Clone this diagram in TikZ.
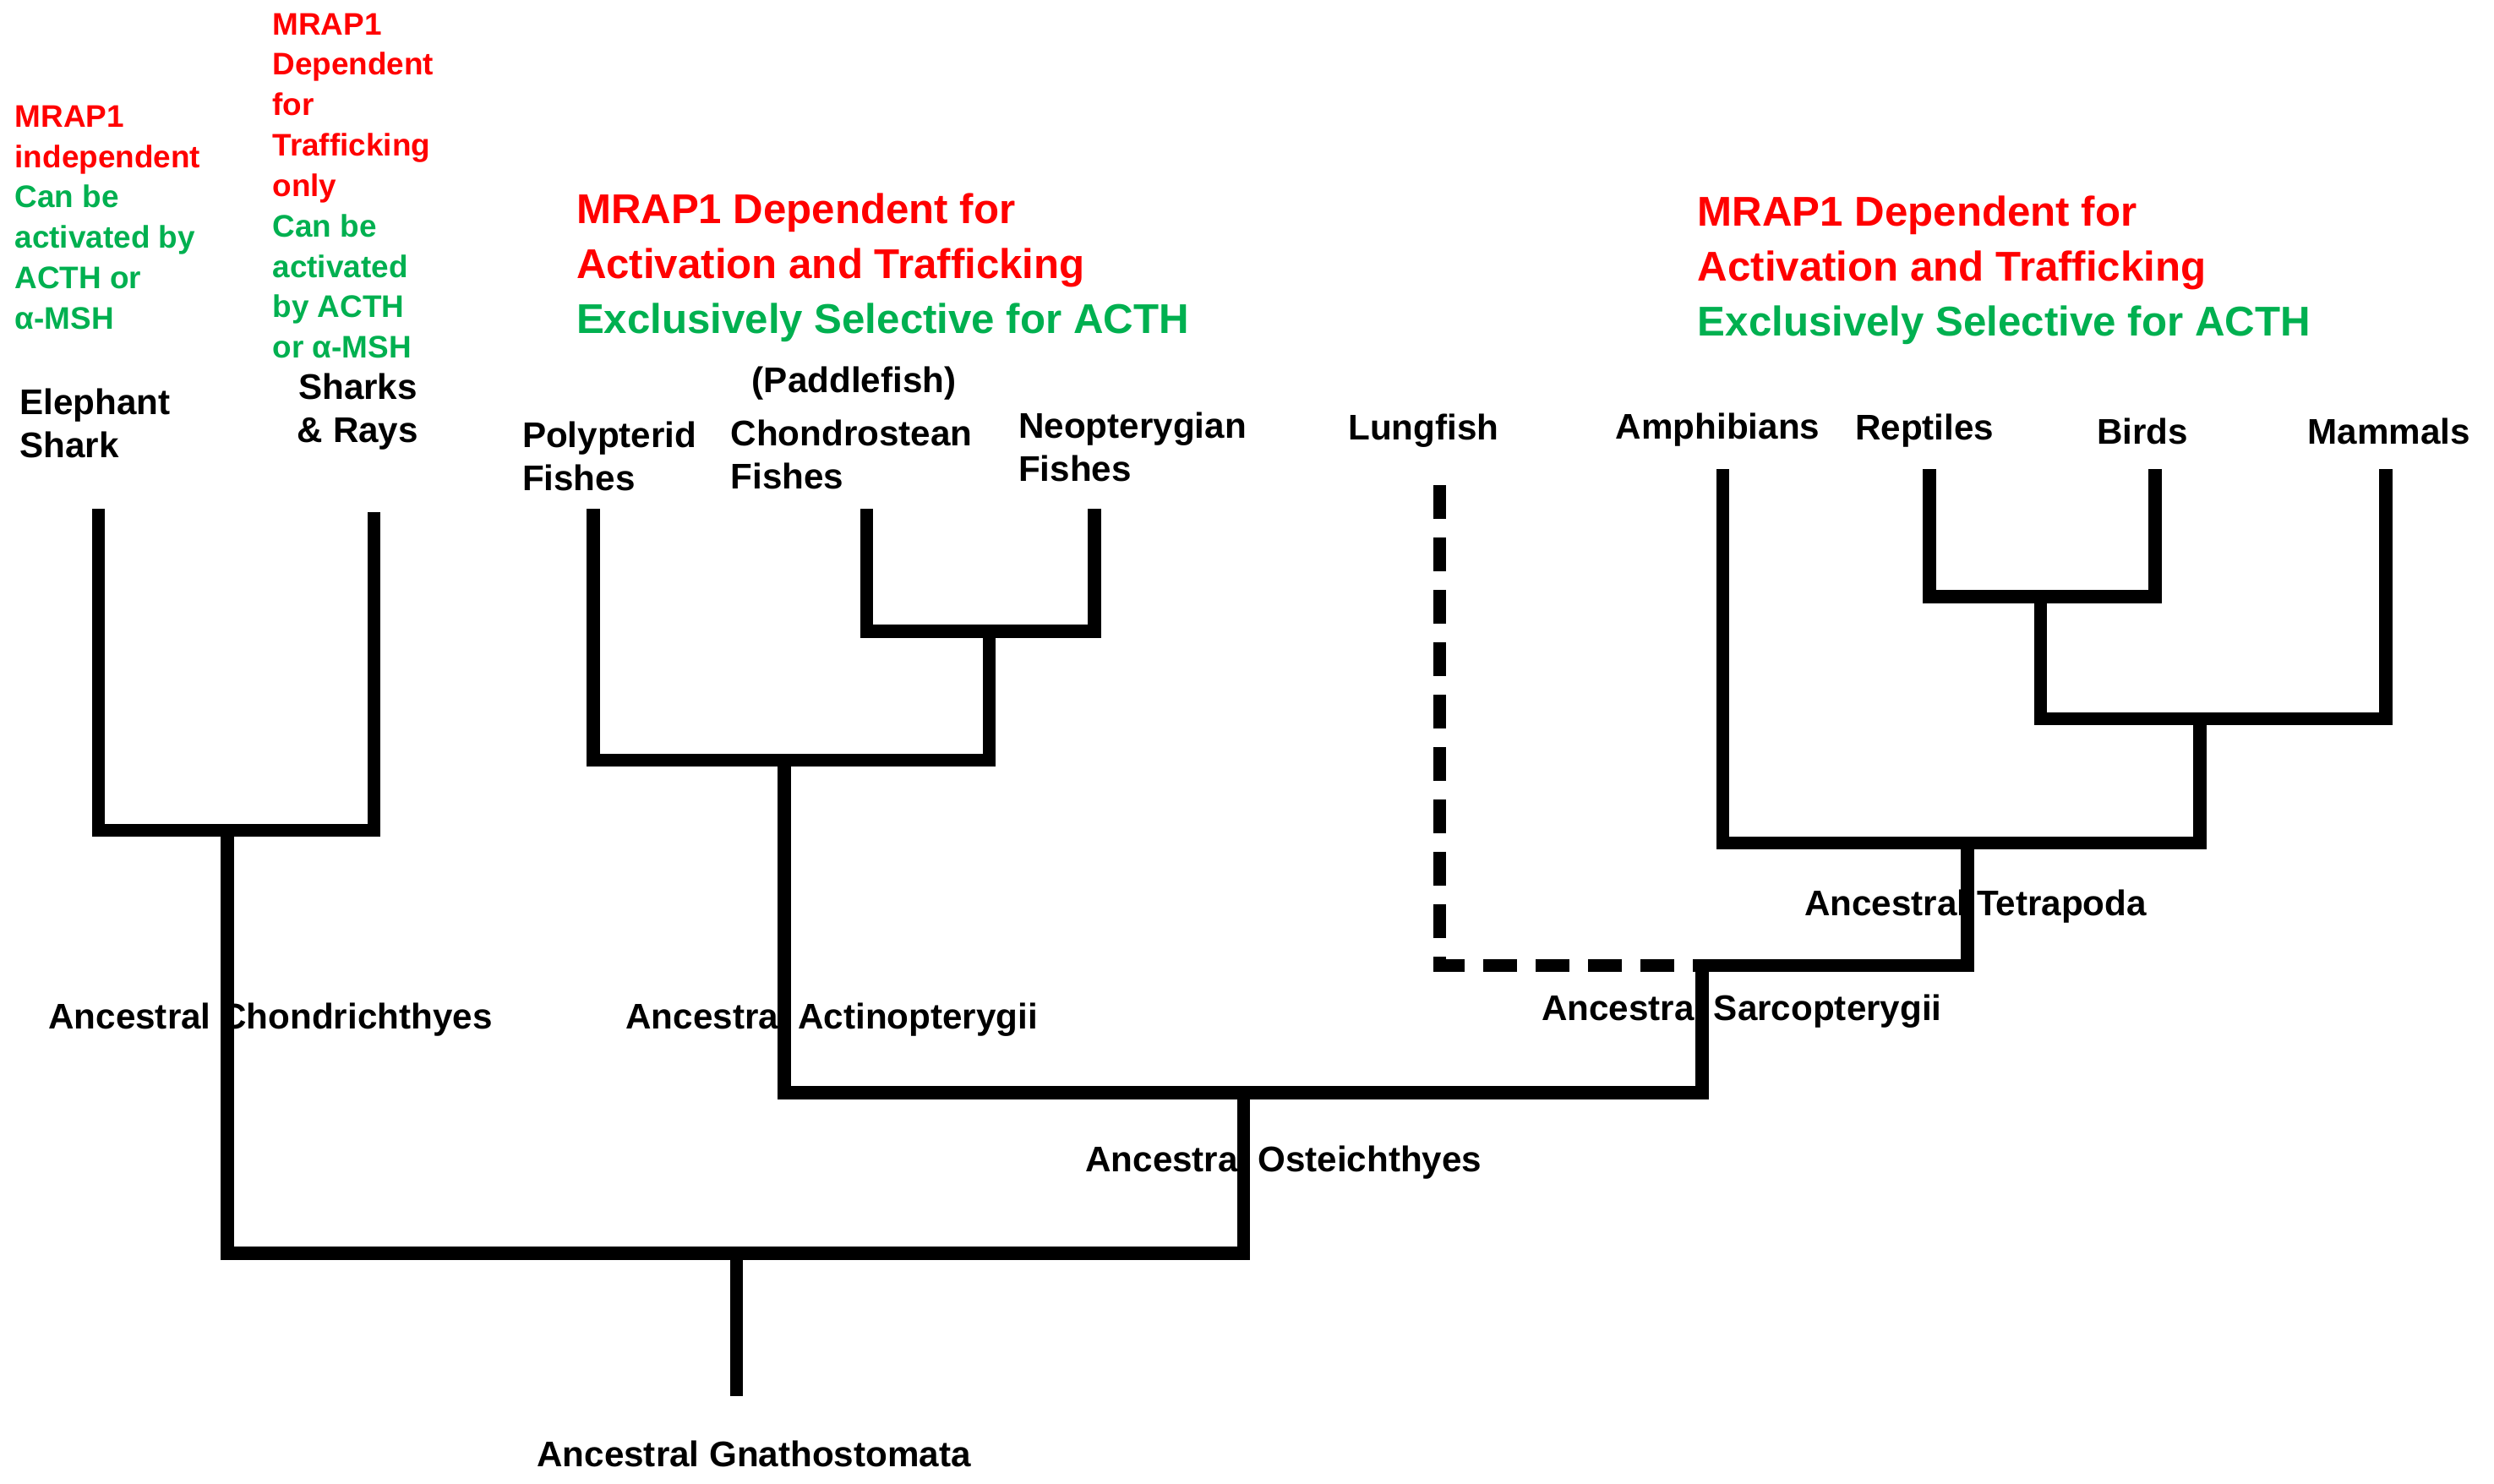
\documentclass[tikz,border=0pt]{standalone}
\usepackage{fontspec}
\setmainfont{Liberation Sans}
\definecolor{mred}{RGB}{255,0,0}
\definecolor{mgreen}{RGB}{0,176,80}
\begin{document}
\begin{tikzpicture}[x=0.01882cm,y=-0.01882cm,
    branch/.style={line width=4.4pt, line join=miter},
    taxon/.style={font=\fontsize{12}{14.5}\selectfont\bfseries, inner sep=0pt, align=left},
    anc/.style={font=\fontsize{12}{14}\selectfont\bfseries, inner sep=0pt},
    note/.style={font=\fontsize{10.5}{13.6}\selectfont\bfseries, inner sep=0pt, align=left, anchor=north west},
    head/.style={font=\fontsize{14}{18.5}\selectfont\bfseries, inner sep=0pt, align=left, anchor=north west}]
    \useasboundingbox (0,0) rectangle (1568,933);
    % notes
    \node[note] (n1) at (9,66) {\textcolor{mred}{MRAP1}\\\textcolor{mred}{independent}\\\textcolor{mgreen}{Can be}\\\textcolor{mgreen}{activated by}\\\textcolor{mgreen}{ACTH or}\\\textcolor{mgreen}{α-MSH}};
    \node[note] (n2) at (171,8) {\textcolor{mred}{MRAP1}\\\textcolor{mred}{Dependent}\\\textcolor{mred}{for}\\\textcolor{mred}{Trafficking}\\\textcolor{mred}{only}\\\textcolor{mgreen}{Can be}\\\textcolor{mgreen}{activated}\\\textcolor{mgreen}{by ACTH}\\\textcolor{mgreen}{or α-MSH}};
    \node[head] (h1) at (362,121) {\textcolor{mred}{MRAP1 Dependent for}\\\textcolor{mred}{Activation and Trafficking}\\\textcolor{mgreen}{Exclusively Selective for ACTH}};
    \node[head] (h2) at (1067,123) {\textcolor{mred}{MRAP1 Dependent for}\\\textcolor{mred}{Activation and Trafficking}\\\textcolor{mgreen}{Exclusively Selective for ACTH}};
    % taxa
    \node[taxon, anchor=west] (tes) at (12,266) {Elephant\\Shark};
    \node[taxon, align=center] (tsr) at (225,259) {Sharks\\\& Rays};
    \node[taxon, anchor=west] (tpf) at (328,287) {Polypterid\\Fishes};
    \node[taxon] (tpd) at (537,241) {(Paddlefish)};
    \node[taxon, anchor=west] (tch) at (459,286) {Chondrostean\\Fishes};
    \node[taxon, anchor=west] (tne) at (640,281) {Neopterygian\\Fishes};
    \node[taxon] (tlf) at (895,271) {Lungfish};
    \node[taxon] (tam) at (1080,270) {Amphibians};
    \node[taxon] (tre) at (1210,271) {Reptiles};
    \node[taxon] (tbi) at (1347,271) {Birds};
    \node[taxon] (tma) at (1502,271) {Mammals};
    % tips and junctions
    \coordinate (es) at (62,320);   \coordinate (sr) at (235,322);
    \coordinate (pf) at (373,320);  \coordinate (ch) at (545,320);
    \coordinate (ne) at (688,320);  \coordinate (lf) at (905,305);
    \coordinate (am) at (1083,295); \coordinate (re) at (1213,295);
    \coordinate (bi) at (1355,295); \coordinate (ma) at (1500,295);
    \coordinate (cJ) at (143,522);  \coordinate (cnJ) at (622,397);
    \coordinate (aJ) at (493,478);  \coordinate (rbJ) at (1283,375);
    \coordinate (mJ) at (1383,452); \coordinate (tJ) at (1237,530);
    \coordinate (sJ) at (1070,607); \coordinate (oJ) at (782,687);
    \coordinate (gJ) at (463,788);  \coordinate (gR) at (463,878);
    % branches
    \draw[branch] (es) |- (cJ) -| (sr);
    \draw[branch] (cJ) |- (gJ) -| (oJ);
    \draw[branch] (gJ) -- (gR);
    \draw[branch] (aJ) |- (oJ) -| (sJ);
    \draw[branch] (pf) |- (aJ) -| (cnJ);
    \draw[branch] (ch) |- (cnJ) -| (ne);
    \draw[branch, dash pattern=on 20pt off 0pt, dash pattern=on 0.4cm off 0.22cm] (lf) |- (sJ);
    \draw[branch] (sJ) -| (tJ);
    \draw[branch] (am) |- (tJ) -| (mJ);
    \draw[branch] (rbJ) |- (mJ) -| (ma);
    \draw[branch] (re) |- (rbJ) -| (bi);
    % ancestral labels
    \node[anc] (ach) at (170,641) {Ancestral Chondrichthyes};
    \node[anc] (aac) at (523,641) {Ancestral Actinopterygii};
    \node[anc] (asa) at (1095,636) {Ancestral Sarcopterygii};
    \node[anc] (ate) at (1242,570) {Ancestral Tetrapoda};
    \node[anc] (aos) at (807,731) {Ancestral Osteichthyes};
    \node[anc] (agn) at (474,914) {Ancestral Gnathostomata};
\end{tikzpicture}
\end{document}
